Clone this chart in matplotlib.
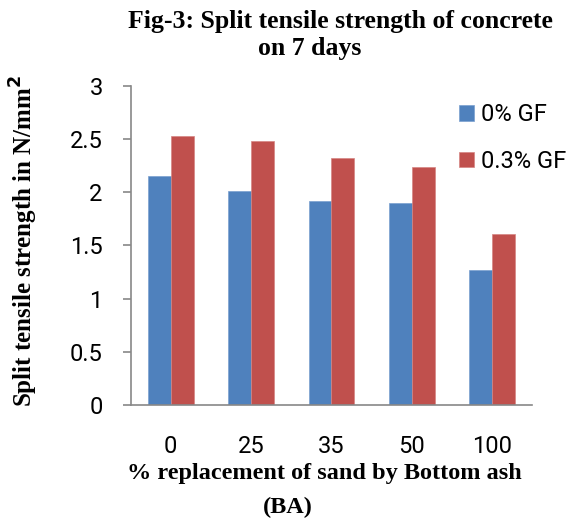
import matplotlib
matplotlib.use("Agg")
import matplotlib.pyplot as plt
import numpy as np

# Data
replacement = ["0", "25", "35", "50", "100"]
gf_0 = [2.15, 2.01, 1.92, 1.90, 1.27]
gf_03 = [2.53, 2.48, 2.32, 2.24, 1.61]
series_labels = ["0% GF", "0.3% GF"]

sans = ["Roboto", "DejaVu Sans"]
serif = ["Liberation Serif", "DejaVu Serif"]

fig = plt.figure(figsize=(5.75, 5.19), dpi=100)
ax = fig.add_axes([0.227, 0.22, 0.699, 0.614])

x = np.arange(len(replacement))
w = 0.285
ax.bar(x - w / 2, gf_0, w, color="#4f81bd", edgecolor="#7aa0d0", linewidth=0.5, label=series_labels[0])
ax.bar(x + w / 2, gf_03, w, color="#c0504d", edgecolor="#d58583", linewidth=0.5, label=series_labels[1])

ax.set_xlim(-0.5, len(replacement) - 0.5)
ax.set_ylim(0, 3)
ax.set_yticks([0, 0.5, 1, 1.5, 2, 2.5, 3])
ax.set_yticklabels(["0", "0.5", "1", "1.5", "2", "2.5", "3"])
ax.set_xticks(x)
ax.set_xticklabels(replacement)
for lbl in ax.get_xticklabels() + ax.get_yticklabels():
    lbl.set_family(sans)
    lbl.set_fontsize(17)

ax.spines["top"].set_visible(False)
ax.spines["right"].set_visible(False)
ax.spines["left"].set_color("#888888")
ax.spines["bottom"].set_color("#888888")
ax.spines["left"].set_linewidth(1.2)
ax.spines["bottom"].set_linewidth(1.2)
ax.tick_params(axis="y", length=6, width=1.2, color="#888888", pad=14)
ax.tick_params(axis="x", length=0, pad=22)

leg = ax.legend(loc="upper left", bbox_to_anchor=(0.793, 0.976), frameon=False,
                prop={"family": sans, "size": 17}, handlelength=0.65, handleheight=0.65,
                handletextpad=0.3, labelspacing=1.0, borderaxespad=0)

fig.text(0.592, 0.958, "Fig-3: Split tensile strength of concrete", ha="center", va="center",
         family=serif, fontweight="bold", fontsize=18.5)
fig.text(0.539, 0.906, "on 7 days", ha="center", va="center",
         family=serif, fontweight="bold", fontsize=18.5)
fig.text(0.565, 0.087, "% replacement of sand by Bottom ash", ha="center", va="center",
         family=serif, fontweight="bold", fontsize=17.5)
fig.text(0.50, 0.022, "(BA)", ha="center", va="center",
         family=serif, fontweight="bold", fontsize=17.5)
fig.text(0.042, 0.535, "Split tensile strength in N/mm$^\\mathbf{2}$", ha="center", va="center",
         rotation=90, family=serif, fontweight="bold", fontsize=18)

fig.savefig("out.png", dpi=100)
